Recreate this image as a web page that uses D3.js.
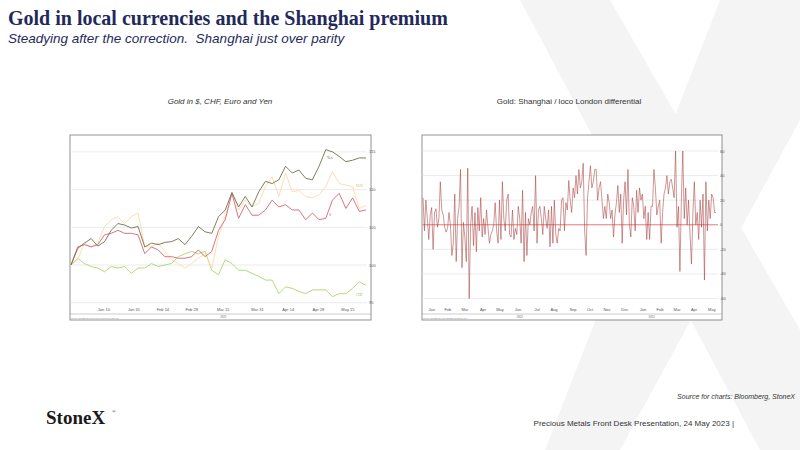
<!DOCTYPE html>
<html><head><meta charset="utf-8">
<script src="https://cdn.jsdelivr.net/npm/d3@7"></script>
<style>body{margin:0;background:#fff}svg{display:block}</style>
</head><body><svg id="c" width="800" height="450"></svg>
<script>
// Left chart: indexed gold (start = 100)
const leftTickLabels=["Jan 10","Jan 31","Feb 14","Feb 28","Mar 15","Mar 31","Apr 14","Apr 28","May 15"];
const leftTickIdx=[4.9,9.4,13.7,18,22.7,27.8,32.4,36.9,41.3];
const leftYTicks=[95,100,105,110,115];
const goldYen=[100,102.2,102.9,103.5,102.5,103.1,104.6,105.5,105.3,104.9,105.1,102.4,102.9,102.7,103.0,103.1,103.5,102.7,103.8,105.1,104.4,104.2,106.4,107.3,109.6,107.7,109.1,107.7,109.7,111.1,110.8,111.3,113.1,112.2,112.6,111.5,111.3,113.1,115.3,115.0,114.4,113.7,113.9,114.2,114.2];
const goldEur=[100,100.7,102.9,102.4,102.9,105.1,106.0,106.4,105.5,106.4,106.9,102.4,102.4,102.9,101.8,100.7,100.2,99.6,100.2,100.9,101.5,99.6,103.8,106.4,109.7,107.3,108.6,107.7,108.2,110.4,111.7,109.1,112.2,109.7,109.9,109.1,108.9,109.3,110.4,112.4,110.8,110.6,110.4,107.5,107.9];
const goldUsd=[100,102.4,102.7,102.4,102.7,104.0,104.2,104.6,104.2,104.2,104.0,101.5,102.4,102.0,101.1,101.1,100.9,100.9,101.1,102.0,101.1,101.8,104.6,106.0,109.5,106.2,108.0,106.6,106.6,107.3,108.6,107.7,108.0,107.3,107.3,106.0,106.9,106.0,106.2,108.6,109.5,107.5,108.9,107.1,107.3];
const goldChf=[100,100.9,100.2,99.8,99.6,99.1,99.8,99.6,99.8,98.9,99.6,99.6,100.2,99.8,100.0,100.2,101.1,101.5,101.8,101.5,101.8,99.3,98.7,100.7,100.2,99.3,99.3,98.9,98.5,98.0,98.0,96.2,97.1,96.9,96.5,96.2,96.7,96.7,96.7,95.8,96.2,96.2,96.9,97.8,97.3];
const seriesNames=["Yen","EUR","$","CHF"];
// Right chart: Shanghai premium ($/oz)
const rightMonths=["Jan","Feb","Mar","Apr","May","Jun","Jul","Aug","Sep","Oct","Nov","Dec","Jan","Feb","Mar","Apr","May"];
const rightMonthPos=[0.03,0.085,0.143,0.205,0.263,0.324,0.389,0.447,0.512,0.57,0.628,0.689,0.751,0.809,0.867,0.925,0.986];
const rightYTicks=[-60,-40,-20,0,20,40,60];
const premium=[22,-5,20,5,-12,8,14,-20,10,13,-2,5,35,12,8,-2,-6,-3,10,0,-25,-15,25,-30,5,15,45,-35,2,-10,-30,46,-60,0,15,-17,10,-22,14,-5,22,-10,5,-8,12,-2,-15,-8,-5,0,18,-5,-15,20,-12,35,5,-5,20,25,-8,-10,12,-12,-3,-8,15,5,-15,28,-30,10,-25,5,0,10,15,-5,40,-15,12,15,5,-8,15,5,-3,12,-18,15,-15,20,-8,-15,-3,-5,20,22,-5,18,12,36,20,10,30,22,40,25,45,30,35,50,-5,-25,22,35,48,30,35,45,45,20,30,35,20,5,15,5,25,18,5,12,-10,8,18,32,10,25,-15,20,35,8,45,0,-10,22,15,-5,28,10,30,20,25,5,15,-12,10,-12,15,15,45,30,8,15,20,-15,10,25,30,40,25,35,37,30,22,60,-2,15,-38,20,60,5,30,0,20,-8,-32,10,35,0,10,-12,20,-2,25,-45,35,-5,20,5,25,22,10,10];
const colors={yen:"#6f6f52",eur:"#fdd9a8",usd:"#d9636f",chf:"#a6d96a"};

const svg=d3.select("#c");
// watermark X
const wm=svg.append("g").attr("fill","#f4f4f4");
wm.append("path").attr("d","M520,0 L610,0 L800,330 L800,450 L760,450 Z");
wm.append("path").attr("d","M720,0 L800,0 L800,120 L620,450 L545,450 Z");

svg.append("text").attr("x",8).attr("y",25).attr("font-family","Liberation Serif, serif").attr("font-weight","bold").attr("font-size",20).attr("fill","#1f2a5c").text("Gold in local currencies and the Shanghai premium");
svg.append("text").attr("x",8).attr("y",43).attr("font-family","Liberation Sans, Arial, sans-serif").attr("font-style","italic").attr("font-size",13.5).attr("fill","#1f2a5c").attr("xml:space","preserve").style("white-space","pre").text("Steadying after the correction.  Shanghai just over parity");

function frame(x0,y0,x1,y1){
  const g=svg.append("g");
  g.append("rect").attr("x",x0).attr("y",y0).attr("width",x1-x0).attr("height",y1-y0).attr("fill","#fff").attr("stroke","#777").attr("stroke-width",0.8);
  g.append("line").attr("x1",x0).attr("x2",x1).attr("y1",y1-6).attr("y2",y1-6).attr("stroke","#999").attr("stroke-width",0.5);
  return g;
}
const line=(x,y)=>d3.line().x((d,i)=>x(i)).y(d=>y(d));
// ---- Left chart ----
const L={x0:70,y0:135,x1:371,y1:320};
const gl=frame(L.x0,L.y0,L.x1,L.y1);
const lx=d3.scaleLinear().domain([0,goldYen.length-1]).range([71,366]);
const ly=d3.scaleLinear().domain([100,105]).range([265,227.3]);
leftYTicks.forEach(v=>{
  gl.append("line").attr("x1",L.x0).attr("x2",L.x1-4).attr("y1",ly(v)).attr("y2",ly(v)).attr("stroke","#ddd").attr("stroke-width",0.6);
  gl.append("text").attr("x",L.x1-2).attr("y",ly(v)+1.5).attr("font-size",4).attr("fill","#555").attr("font-family","Liberation Sans").text(v);
});
leftTickIdx.forEach((t,i)=>gl.append("text").attr("x",lx(t)).attr("y",L.y1-9).attr("text-anchor","middle").attr("font-size",4).attr("fill","#555").attr("font-family","Liberation Sans").text(leftTickLabels[i]));
gl.append("text").attr("x",lx(22.7)).attr("y",L.y1-2.5).attr("text-anchor","middle").attr("font-size",3).attr("fill","#555").text("2023");
[[goldChf,colors.chf],[goldEur,colors.eur],[goldUsd,colors.usd],[goldYen,colors.yen]].forEach(([d,c])=>gl.append("path").attr("d",line(lx,ly)(d)).attr("fill","none").attr("stroke",c).attr("stroke-width",0.9));
[[seriesNames[0],38.2,114.0,colors.yen],[seriesNames[1],42.5,110.3,"#e8b070"],[seriesNames[2],38.5,106.5,colors.usd],[seriesNames[3],42.5,95.9,"#8cbf50"]].forEach(([t,i,v,c])=>gl.append("text").attr("x",lx(i)).attr("y",ly(v)).attr("font-size",3.5).attr("fill",c).text(t));
svg.append("text").attr("x",220).attr("y",104).attr("text-anchor","middle").attr("font-family","Liberation Sans").attr("font-style","italic").attr("font-size",8).attr("fill","#333").text("Gold in $, CHF, Euro and Yen");
gl.append("text").attr("x",L.x0+1).attr("y",L.y1-0.8).attr("font-size",2.2).attr("fill","#777").text("Source: Bloomberg  Gold in local currencies (indexed)");

// ---- Right chart ----
const R={x0:422,y0:135,x1:722,y1:320};
const gr=frame(R.x0,R.y0,R.x1,R.y1);
const rx=d3.scaleLinear().domain([0,premium.length-1]).range([423,716]);
const rf=d3.scaleLinear().domain([0,1]).range([423,716]);
const ry=d3.scaleLinear().domain([-60,60]).range([298.5,151]);
rightYTicks.forEach(v=>{
  gr.append("line").attr("x1",R.x0).attr("x2",R.x1-4).attr("y1",ry(v)).attr("y2",ry(v)).attr("stroke","#ddd").attr("stroke-width",0.6);
  gr.append("text").attr("x",R.x1-2).attr("y",ry(v)+1.5).attr("font-size",4).attr("fill","#555").attr("font-family","Liberation Sans").text(v);
});
gr.append("line").attr("x1",R.x0).attr("x2",R.x1-4).attr("y1",ry(0)).attr("y2",ry(0)).attr("stroke","#f08080").attr("stroke-width",1);
rightMonthPos.forEach((t,i)=>gr.append("text").attr("x",rf(t)).attr("y",R.y1-9).attr("text-anchor","middle").attr("font-size",4).attr("fill","#555").attr("font-family","Liberation Sans").text(rightMonths[i]));
gr.append("text").attr("x",rf(0.33)).attr("y",R.y1-2.5).attr("text-anchor","middle").attr("font-size",3).attr("fill","#555").text("2022");
gr.append("text").attr("x",rf(0.78)).attr("y",R.y1-2.5).attr("text-anchor","middle").attr("font-size",3).attr("fill","#555").text("2023");
gr.append("path").attr("d",line(rx,ry)(premium)).attr("fill","none").attr("stroke","#a83c3c").attr("stroke-width",0.6).attr("stroke-opacity",0.9);
gr.append("text").attr("x",R.x0+1).attr("y",R.y1-0.8).attr("font-size",2.2).attr("fill","#777").text("Source: Bloomberg  Gold Shanghai premium, daily");
svg.append("text").attr("x",569).attr("y",104).attr("text-anchor","middle").attr("font-family","Liberation Sans").attr("font-size",8).attr("fill","#333").text("Gold: Shanghai / loco London differential");

// footer
svg.append("text").attr("x",795).attr("y",399).attr("text-anchor","end").attr("font-family","Liberation Sans").attr("font-style","italic").attr("font-size",7).attr("fill","#333").text("Source for charts: Bloomberg, StoneX");
svg.append("text").attr("x",46).attr("y",424).attr("font-family","Liberation Serif, serif").attr("font-weight","bold").attr("font-size",19).attr("fill","#1a1a1a").text("StoneX");
svg.append("text").attr("x",112).attr("y",413).attr("font-size",5).attr("fill","#1a1a1a").text("®");
svg.append("text").attr("x",734).attr("y",426).attr("text-anchor","end").attr("font-family","Liberation Sans").attr("font-size",8).attr("fill","#333").text("Precious Metals Front Desk Presentation, 24 May 2023 |");
</script></body></html>
